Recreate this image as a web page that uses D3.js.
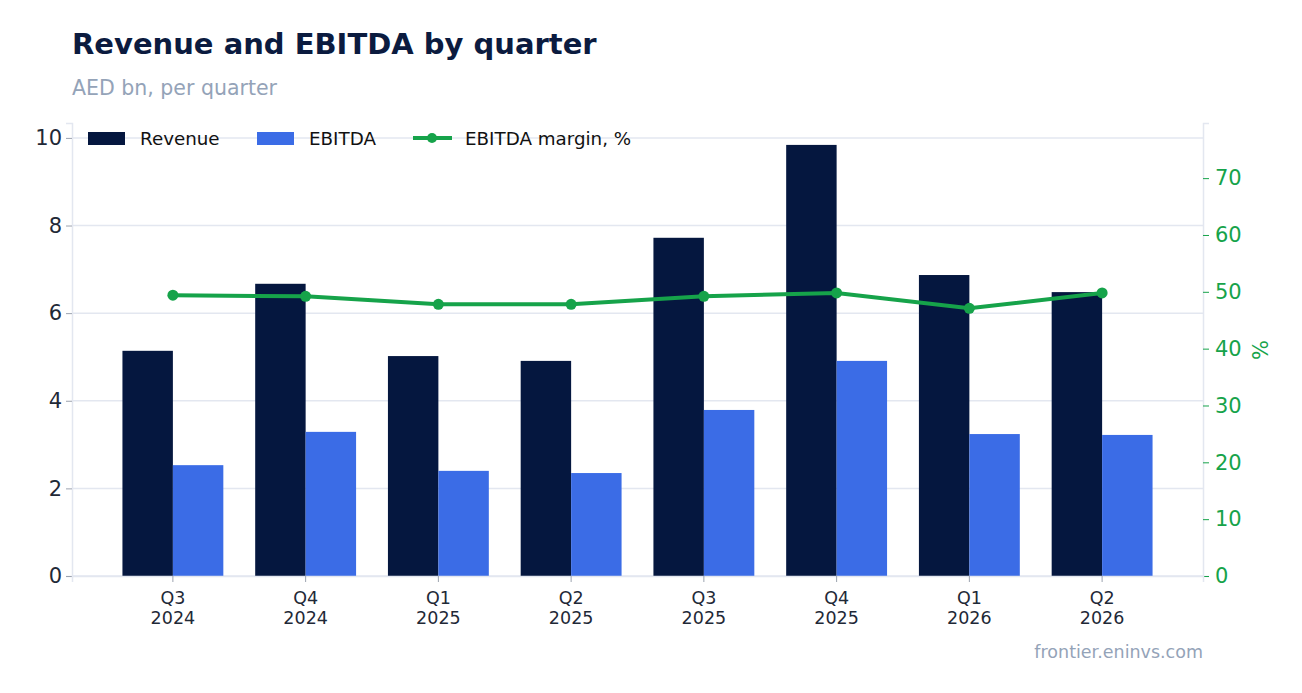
<!DOCTYPE html>
<html><head><meta charset="utf-8">
<script src="https://cdn.jsdelivr.net/npm/d3@7"></script>
<style>body{margin:0;background:#fff;font-family:"DejaVu Sans",sans-serif}</style>
</head><body>
<script>
var quarters = ["Q3\n2024","Q4\n2024","Q1\n2025","Q2\n2025","Q3\n2025","Q4\n2025","Q1\n2026","Q2\n2026"]
var revenue = [5.14, 6.67, 5.02, 4.91, 7.72, 9.84, 6.87, 6.48]
var ebitda = [2.53, 3.29, 2.40, 2.35, 3.79, 4.91, 3.24, 3.22]
var margin = [49.4, 49.2, 47.8, 47.8, 49.2, 49.8, 47.1, 49.8]
var leftTicks = [0, 2, 4, 6, 8, 10]
var rightTicks = [0, 10, 20, 30, 40, 50, 60, 70]

var width = 1302, height = 693
var pLeft = 72, pRight = 1203, pTop = 123, pBottom = 576
var navy = "#05173f", blue = "#3b6ce6", green = "#16a34a", grid = "#e3e7f0"
var font = "DejaVu Sans, sans-serif"

var svg = d3.select("body").append("svg").attr("width", width).attr("height", height)

svg.append("text").attr("x", 72).attr("y", 54).text("Revenue and EBITDA by quarter")
    .attr("font-size", 29).attr("font-weight", "bold").attr("fill", "#0b1b3f")
svg.append("text").attr("x", 72).attr("y", 95).text("AED bn, per quarter")
    .attr("font-size", 20.5).attr("fill", "#94a3b8")
svg.append("text").attr("x", 1203).attr("y", 658).attr("text-anchor", "end").text("frontier.eninvs.com")
    .attr("font-size", 17.5).attr("fill", "#94a3b8")

var x = d3.scaleBand().domain(quarters).range([pLeft, pRight]).paddingInner(0.24).paddingOuter(0.38)
var y = d3.scaleLinear().domain([0, 10.34]).range([pBottom, pTop])
var y2 = d3.scaleLinear().domain([0, 79.7]).range([pBottom, pTop])

svg.append("g").selectAll("line").data(leftTicks).enter().append("line")
    .attr("x1", pLeft).attr("x2", pRight).attr("y1", d => y(d)).attr("y2", d => y(d))
    .attr("stroke", grid).attr("stroke-width", 1.5)

var yAxis = svg.append("g").attr("transform", "translate(" + pLeft + ",0)")
    .call(d3.axisLeft(y).tickValues(leftTicks).tickSize(6).tickPadding(4))
    .attr("font-family", font).attr("font-size", 21)
yAxis.selectAll("text").attr("fill", "#1f2937")
yAxis.selectAll("line").attr("stroke", "#9ca3af")
yAxis.select(".domain").attr("stroke", grid).attr("stroke-width", 1.5)

var y2Axis = svg.append("g").attr("transform", "translate(" + pRight + ",0)")
    .call(d3.axisRight(y2).tickValues(rightTicks).tickSize(6).tickPadding(6))
    .attr("font-family", font).attr("font-size", 21)
y2Axis.selectAll("text").attr("fill", green)
y2Axis.selectAll("line").attr("stroke", green)
y2Axis.select(".domain").attr("stroke", grid).attr("stroke-width", 1.5)
svg.append("text").attr("transform", "translate(1268,350) rotate(-90)").attr("text-anchor", "middle")
    .text("%").attr("font-size", 21).attr("fill", green)

var bw = x.bandwidth() / 2
svg.append("g").selectAll("rect").data(revenue).enter().append("rect")
    .attr("x", (d, i) => x(quarters[i])).attr("y", d => y(d))
    .attr("width", bw).attr("height", d => pBottom - y(d)).attr("fill", navy)
svg.append("g").selectAll("rect").data(ebitda).enter().append("rect")
    .attr("x", (d, i) => x(quarters[i]) + bw).attr("y", d => y(d))
    .attr("width", bw).attr("height", d => pBottom - y(d)).attr("fill", blue)

var xAxis = svg.append("g").attr("transform", "translate(0," + pBottom + ")")
    .call(d3.axisBottom(x).tickSize(6).tickFormat(""))
    .attr("font-family", font).attr("font-size", 17.5)
xAxis.select(".domain").attr("stroke", grid).attr("stroke-width", 1.5)
xAxis.selectAll("line").attr("stroke", "#9ca3af")
xAxis.selectAll(".tick").append("text").attr("fill", "#1f2937")
    .selectAll("tspan").data(d => d.split("\n")).enter().append("tspan")
    .attr("x", 0).attr("y", (d, i) => 28 + i * 20).text(d => d)

var cx = (d, i) => x(quarters[i]) + bw
svg.append("path").datum(margin)
    .attr("d", d3.line().x(cx).y(d => y2(d)))
    .attr("fill", "none").attr("stroke", green).attr("stroke-width", 4)
svg.append("g").selectAll("circle").data(margin).enter().append("circle")
    .attr("cx", cx).attr("cy", d => y2(d)).attr("r", 5.5).attr("fill", green)

// legend
var lg = svg.append("g").attr("font-size", 18.3).attr("fill", "#111")
lg.append("rect").attr("x", 88).attr("y", 132).attr("width", 37).attr("height", 13).attr("fill", navy)
lg.append("text").attr("x", 140).attr("y", 145).text("Revenue")
lg.append("rect").attr("x", 257).attr("y", 132).attr("width", 37).attr("height", 13).attr("fill", blue)
lg.append("text").attr("x", 309).attr("y", 145).text("EBITDA")
lg.append("line").attr("x1", 413).attr("x2", 452).attr("y1", 138).attr("y2", 138).attr("stroke", green).attr("stroke-width", 4)
lg.append("circle").attr("cx", 432).attr("cy", 138).attr("r", 5).attr("fill", green)
lg.append("text").attr("x", 465).attr("y", 145).text("EBITDA margin, %")
</script>
</body></html>
